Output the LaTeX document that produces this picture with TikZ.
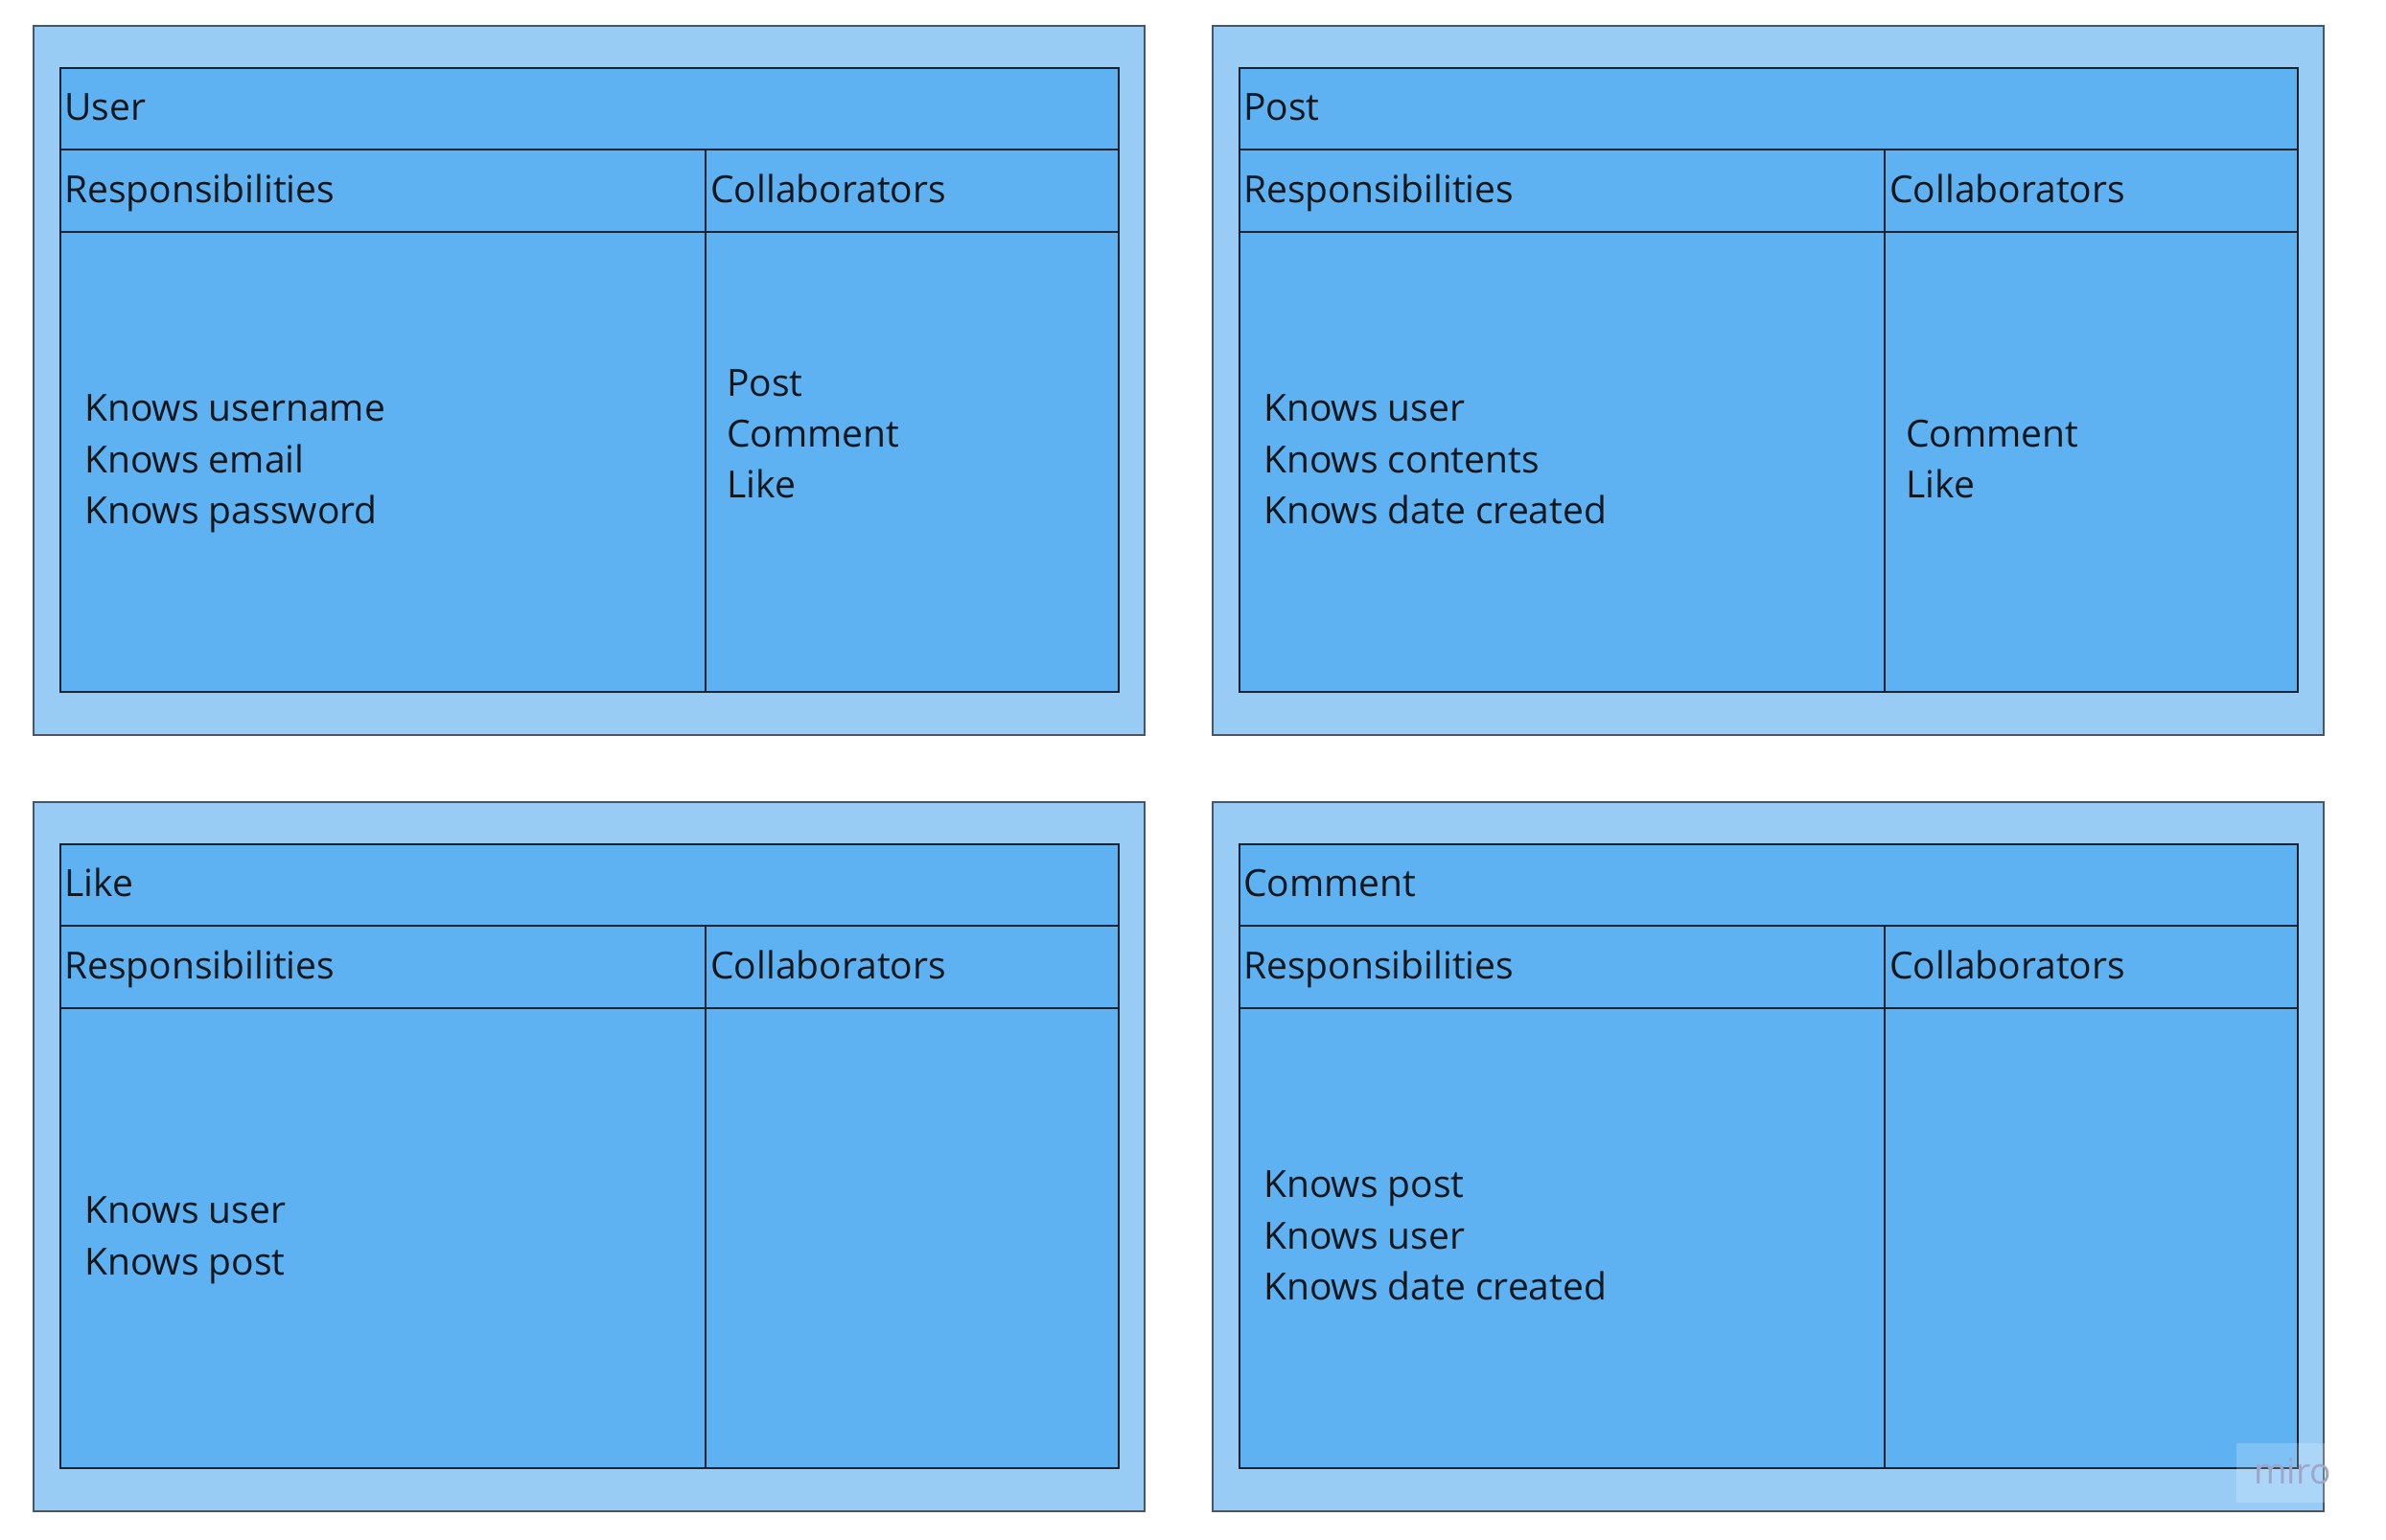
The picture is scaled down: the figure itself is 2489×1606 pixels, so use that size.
\documentclass[tikz,border=0pt]{standalone}
\usepackage{fontspec}
\setmainfont{Open Sans}
\definecolor{outerfill}{HTML}{98CCF5}
\definecolor{innerfill}{HTML}{5EB2F2}
\definecolor{outerline}{HTML}{4A5663}
\definecolor{innerline}{HTML}{17222D}
\definecolor{txt}{HTML}{11171D}
\definecolor{miroc}{HTML}{9DA6C9}
\tikzset{
  outerbox/.style={draw=outerline, fill=outerfill, line width=2pt},
  cell/.style={draw=innerline, fill=innerfill, line width=1.8pt},
  lbl/.style={anchor=base west, inner sep=0pt, text=txt, font=\fontsize{39}{54}\selectfont},
}
\newcommand\crccard[4]{%
  \begin{scope}[shift={(#2,#3)}]
    \draw[outerbox] (35,27) rectangle (1194,767);
    \draw[cell] (63,71) rectangle (1167,156);
    \draw[cell] (63,156) rectangle (736,242);
    \draw[cell] (736,156) rectangle (1167,242);
    \draw[cell] (63,242) rectangle (736,722);
    \draw[cell] (736,242) rectangle (1167,722);
    \node[lbl] (#1-title) at (67,125.5) {#4};
    \node[lbl] (#1-resp) at (67,211.5) {Responsibilities};
    \node[lbl] (#1-collab) at (741,211.5) {Collaborators};
  \end{scope}}
\begin{document}
\begin{tikzpicture}[x=1pt,y=-1pt]
  \useasboundingbox[fill=white] (0,0) rectangle (2489,1606);
  % User
  \crccard{user}{0}{0}{User}
  \node[lbl] (user-r1) at (88,439.5) {Knows username};
  \node[lbl] (user-r2) at (88,493) {Knows email};
  \node[lbl] (user-r3) at (88,546.5) {Knows password};
  \node[lbl] (user-c1) at (758,413.5) {Post};
  \node[lbl] (user-c2) at (758,466.5) {Comment};
  \node[lbl] (user-c3) at (758,519.5) {Like};
  % Post
  \crccard{post}{1230}{0}{Post}
  \node[lbl] (post-r1) at (1318,439.5) {Knows user};
  \node[lbl] (post-r2) at (1318,493) {Knows contents};
  \node[lbl] (post-r3) at (1318,546.5) {Knows date created};
  \node[lbl] (post-c1) at (1988,466.5) {Comment};
  \node[lbl] (post-c2) at (1988,519.5) {Like};
  % Like
  \crccard{like}{0}{810}{Like}
  \node[lbl] (like-r1) at (88,1276.5) {Knows user};
  \node[lbl] (like-r2) at (88,1330.5) {Knows post};
  % Comment
  \crccard{comment}{1230}{810}{Comment}
  \node[lbl] (comment-r1) at (1318,1249.5) {Knows post};
  \node[lbl] (comment-r2) at (1318,1303) {Knows user};
  \node[lbl] (comment-r3) at (1318,1356.5) {Knows date created};
  % watermark
  \fill[white, opacity=0.2] (2333,1506) rectangle (2489,1568);
  \node[anchor=base west, inner sep=0pt, text=miroc, font=\fontsize{37}{40}\selectfont] (miro) at (2351,1548) {miro};
\end{tikzpicture}
\end{document}
